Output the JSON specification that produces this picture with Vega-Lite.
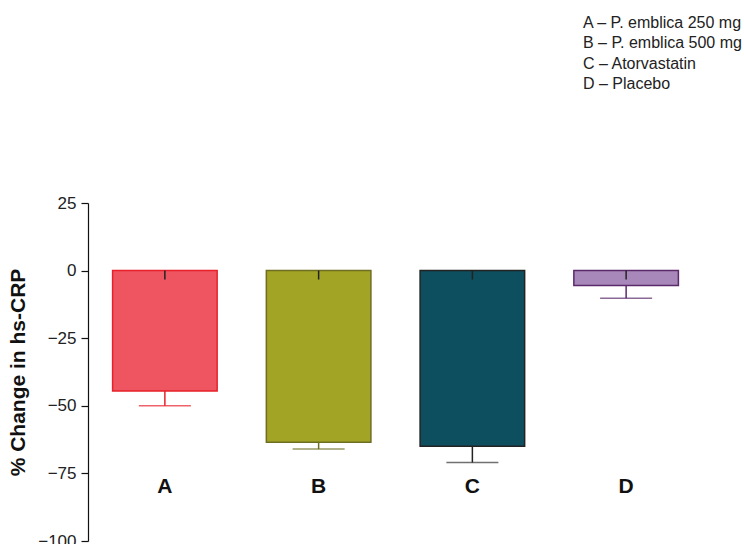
{
  "$schema": "https://vega.github.io/schema/vega-lite/v6.json",
  "autosize": "none",
  "width": 615,
  "height": 338,
  "padding": {"left": 88, "top": 203, "right": 41, "bottom": 3},
  "background": "white",
  "title": {
    "text": ["A – P. emblica 250 mg", "B – P. emblica 500 mg", "C – Atorvastatin", "D – Placebo"],
    "anchor": "end",
    "align": "left",
    "dx": -120,
    "offset": 102,
    "font": "Liberation Sans",
    "fontSize": 16,
    "fontWeight": "normal",
    "lineHeight": 20.5,
    "color": "#222222"
  },
  "config": {
    "view": {"stroke": null},
    "font": "Liberation Sans"
  },
  "data": {
    "values": [
      {"group": "A", "value": -44.5, "lower": -50},
      {"group": "B", "value": -63.5, "lower": -66},
      {"group": "C", "value": -65, "lower": -71},
      {"group": "D", "value": -5.5, "lower": -10.2}
    ]
  },
  "encoding": {
    "x": {
      "field": "group",
      "type": "nominal",
      "scale": {"paddingInner": 0.32, "paddingOuter": 0.16},
      "axis": null
    }
  },
  "layer": [
    {
      "mark": {"type": "bar", "strokeWidth": 1.5},
      "encoding": {
        "y": {
          "field": "value",
          "type": "quantitative",
          "scale": {"domain": [-100, 25], "nice": false, "zero": false},
          "axis": {
            "values": [-100, -75, -50, -25, 0, 25],
            "grid": false,
            "tickSize": 7,
            "labelPadding": 5,
            "labelFontSize": 17,
            "labelColor": "#222222",
            "domainColor": "#111111",
            "tickColor": "#111111",
            "domainWidth": 1.2,
            "tickWidth": 1.2,
            "title": "% Change in hs-CRP",
            "titleFontSize": 21,
            "titleFontWeight": "bold",
            "titleColor": "#111111",
            "titlePadding": 9
          }
        },
        "y2": {"datum": 0},
        "fill": {
          "field": "group",
          "type": "nominal",
          "scale": {"domain": ["A", "B", "C", "D"], "range": ["#ee5560", "#a2a426", "#0d4f5e", "#a888ba"]},
          "legend": null
        },
        "stroke": {
          "field": "group",
          "type": "nominal",
          "scale": {"domain": ["A", "B", "C", "D"], "range": ["#e8202a", "#6e6e22", "#222222", "#5a2a6a"]},
          "legend": null
        }
      }
    },
    {
      "mark": {"type": "rule", "strokeWidth": 1.5},
      "encoding": {
        "y": {"field": "value", "type": "quantitative"},
        "y2": {"field": "lower"},
        "stroke": {"field": "group", "type": "nominal", "legend": null}
      }
    },
    {
      "mark": {"type": "tick", "thickness": 1.5, "size": 52, "orient": "horizontal"},
      "encoding": {
        "y": {"field": "lower", "type": "quantitative"},
        "color": {
          "field": "group",
          "type": "nominal",
          "scale": {"domain": ["A", "B", "C", "D"], "range": ["#e8202a", "#6e6e22", "#333333", "#5a2a6a"]},
          "legend": null
        }
      }
    },
    {
      "mark": {"type": "rule", "strokeWidth": 1.5, "color": "#222222"},
      "encoding": {
        "y": {"datum": 0},
        "y2": {"datum": -3.3}
      }
    },
    {
      "mark": {"type": "rule", "strokeWidth": 1.5, "color": "#333333"},
      "encoding": {
        "y": {"datum": 0}
      }
    },
    {
      "mark": {"type": "text", "fontSize": 21, "fontWeight": "bold", "color": "#111111", "baseline": "middle"},
      "encoding": {
        "y": {"datum": -80},
        "text": {"field": "group"}
      }
    }
  ],
  "resolve": {"scale": {"color": "independent", "stroke": "shared"}}
}
